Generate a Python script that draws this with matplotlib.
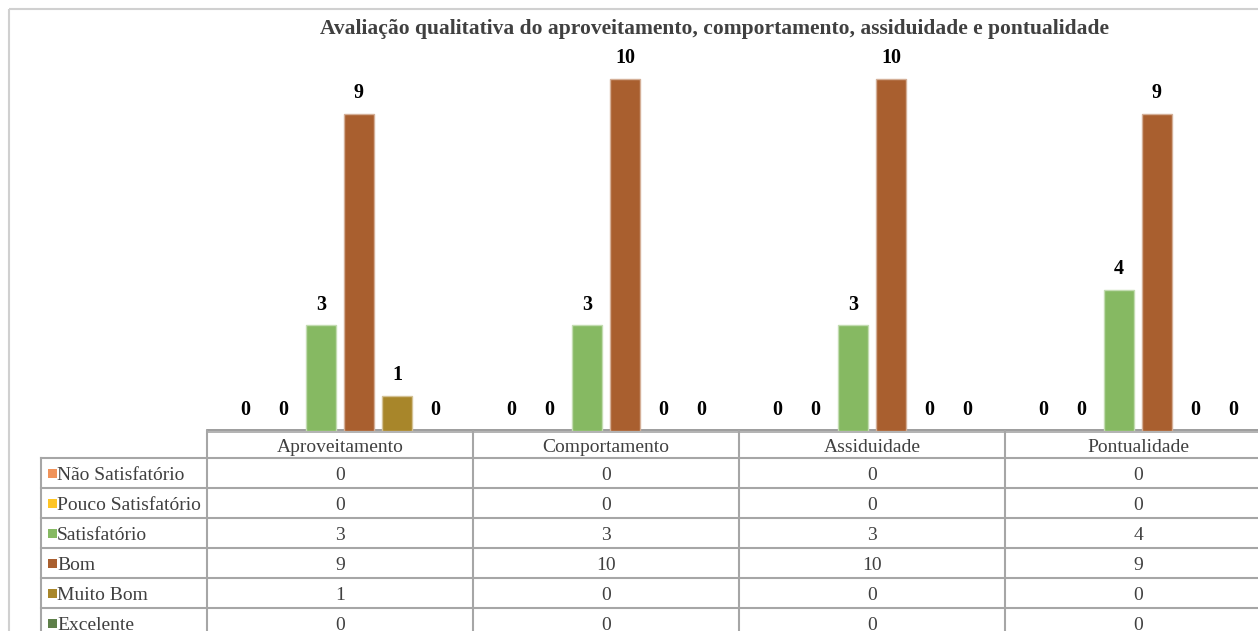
import matplotlib
matplotlib.use("Agg")
import matplotlib.pyplot as plt
from matplotlib.patches import Rectangle

categories = ["Aproveitamento", "Comportamento", "Assiduidade", "Pontualidade"]
series_names = ["Não Satisfatório", "Pouco Satisfatório", "Satisfatório", "Bom", "Muito Bom", "Excelente"]
nao_satisfatorio = [0, 0, 0, 0]
pouco_satisfatorio = [0, 0, 0, 0]
satisfatorio = [3, 3, 3, 4]
bom = [9, 10, 10, 9]
muito_bom = [1, 0, 0, 0]
excelente = [0, 0, 0, 0]
series_values = [nao_satisfatorio, pouco_satisfatorio, satisfatorio, bom, muito_bom, excelente]
colors = ["#F0935A", "#FFC525", "#86B962", "#A95F2F", "#A8862A", "#5E7F49"]
edge_colors = ["#F7C1A0", "#FFE08A", "#C3DCB1", "#D4AF97", "#D4C295", "#AFBFA4"]
title = "Avaliação qualitativa do aproveitamento, comportamento, assiduidade e pontualidade"

W, H = 1258, 631
fig = plt.figure(figsize=(W / 100, H / 100), dpi=100)
plt.rcParams['font.family'] = ['Liberation Serif', 'DejaVu Serif']

# layout (pixels)
plot_left, col_w = 207, 266
base_y, top_y = 431, 40
px_per_unit = 35.2
n_cat = len(categories)
plot_right = plot_left + col_w * n_cat

# overlay axes in pixel coordinates
bg = fig.add_axes([0, 0, 1, 1])
bg.set_xlim(0, W)
bg.set_ylim(H, 0)
bg.axis("off")

# chart border
bg.add_patch(Rectangle((9, 9), W + 20, H + 20, fill=False, edgecolor="#D0D0D0", linewidth=1.5))

# main bar axes
ax = fig.add_axes([plot_left / W, (H - base_y) / H, (plot_right - plot_left) / W, (base_y - top_y) / H])
ax.set_xlim(0, n_cat)
ax.set_ylim(0, (base_y - top_y) / px_per_unit)
ax.axis("off")

spacing = 38 / col_w
bw = 30 / col_w
ns = len(series_values)
for j, vals in enumerate(series_values):
    xs = [i + 0.5 + (j - (ns - 1) / 2) * spacing for i in range(n_cat)]
    nz = [(x, v) for x, v in zip(xs, vals) if v != 0]
    if nz:
        ax.bar([p[0] for p in nz], [p[1] for p in nz], width=bw, color=colors[j],
               edgecolor=edge_colors[j], linewidth=1.0, zorder=2)
    for x, v in zip(xs, vals):
        ax.annotate(str(v), (x, v), xytext=(0, 15), textcoords="offset points",
                    ha="center", va="center", fontsize=14.5, fontweight="bold", color="black")

# title
bg.text(715, 29, title, ha="center", va="center", fontsize=15.5, fontweight="bold", color="#404040")

# table
line_c = "#A6A6A6"
header_top, header_bot = 431, 458
row_h = 30
row_tops = [header_bot + k * row_h for k in range(ns + 1)]
label_left = 41
bg.plot([plot_left, W + 10], [429.5, 429.5], color="#8C8C8C", lw=1.2)
bg.plot([plot_left, W + 10], [432, 432], color=line_c, lw=1.2)
for y in row_tops:
    bg.plot([label_left, W + 10], [y, y], color=line_c, lw=1.5)
bg.plot([label_left, label_left], [header_bot, H + 10], color=line_c, lw=1.5)
for i in range(n_cat):
    x = plot_left + i * col_w
    bg.plot([x, x], [header_top, H + 10], color=line_c, lw=1.5)

txt_c = "#404040"
fs = 14
for i, cat in enumerate(categories):
    bg.text(plot_left + (i + 0.5) * col_w, (header_top + header_bot) / 2 + 2.5, cat,
            ha="center", va="center", fontsize=fs, color=txt_c)
for j, name in enumerate(series_names):
    yc = row_tops[j] + row_h / 2
    bg.add_patch(Rectangle((47.5, yc - 4.5), 9, 9, facecolor=colors[j], edgecolor="none"))
    bg.text(57, yc + 2.5, name, ha="left", va="center", fontsize=fs, color=txt_c)
    for i, v in enumerate(series_values[j]):
        bg.text(plot_left + (i + 0.5) * col_w, yc + 2.5, str(v), ha="center", va="center",
                fontsize=fs, color=txt_c)

fig.savefig("out.png", dpi=100)
